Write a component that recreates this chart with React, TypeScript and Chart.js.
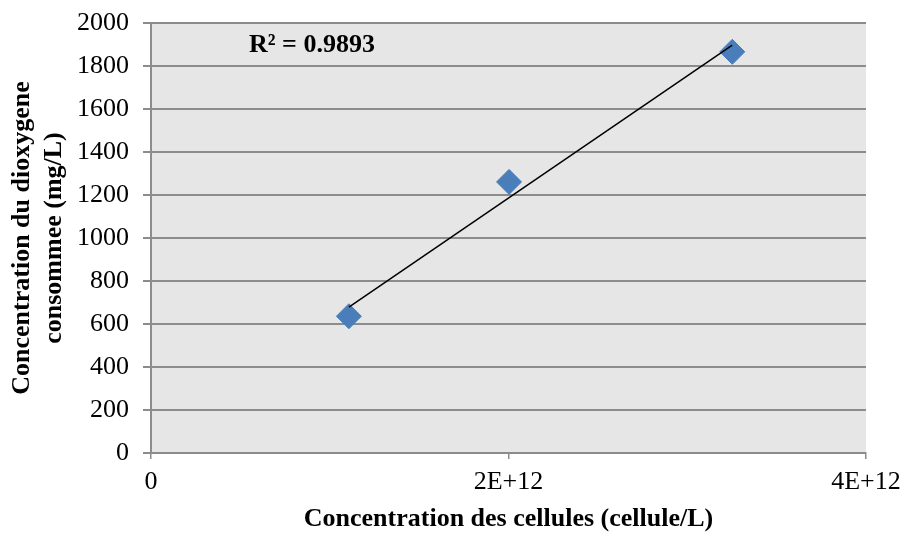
import React, { useEffect, useRef } from "react";
import { Chart, registerables } from "chart.js";

Chart.register(...registerables);

// Data
const cellConc: number[] = [1.107e12, 2.003e12, 3.252e12];
const o2Conc: number[] = [636, 1261, 1866];
const trendX: number[] = [1.107e12, 3.252e12];
const trendY: number[] = [679, 1897];
const xTicks: number[] = [0, 2e12, 4e12];
const xTickLabels: string[] = ["0", "2E+12", "4E+12"];
const r2Label = "R² = 0.9893";
const xTitle = "Concentration des cellules (cellule/L)";
const yTitle: string[] = ["Concentration du dioxygene", "consommee (mg/L)"];

const FONT = "'Times New Roman', 'Liberation Serif', serif";

export default function App() {
  const ref = useRef<HTMLCanvasElement | null>(null);

  useEffect(() => {
    document.body.style.margin = "0";
    const canvas = ref.current;
    if (!canvas) return;

    const bgPlugin = {
      id: "plotBg",
      beforeDraw(chart: any) {
        const { ctx, chartArea } = chart;
        ctx.save();
        ctx.fillStyle = "#e6e6e6";
        ctx.fillRect(chartArea.left, chartArea.top, chartArea.right - chartArea.left, chartArea.bottom - chartArea.top);
        ctx.restore();
      },
      afterDraw(chart: any) {
        const { ctx, chartArea } = chart;
        ctx.save();
        ctx.fillStyle = "#000";
        ctx.font = `bold 26px ${FONT}`;
        ctx.textAlign = "left";
        ctx.textBaseline = "middle";
        ctx.fillText(r2Label, chartArea.left + 98, chartArea.top + 22);
        ctx.restore();
      },
    };

    const chart = new Chart(canvas, {
      type: "scatter",
      data: {
        datasets: [
          {
            label: "trend",
            data: trendX.map((x, i) => ({ x, y: trendY[i] })),
            showLine: true,
            borderColor: "#000000",
            borderWidth: 1.5,
            pointRadius: 0,
            order: 0,
          },
          {
            label: "data",
            data: cellConc.map((x, i) => ({ x, y: o2Conc[i] })),
            pointStyle: "rectRot",
            pointRadius: 12.5,
            pointBackgroundColor: "#4a7ebb",
            pointBorderColor: "#4a7ebb",
            pointBorderWidth: 1,
            showLine: false,
            order: 1,
          },
        ],
      },
      options: {
        responsive: false,
        animation: false,
        layout: { padding: { top: 23, right: 38, left: 0, bottom: 0 } },
        plugins: { legend: { display: false }, tooltip: { enabled: false } },
        scales: {
          x: {
            type: "linear",
            min: 0,
            max: 4e12,
            afterBuildTicks(scale: any) {
              scale.ticks = xTicks.map((v) => ({ value: v }));
            },
            ticks: {
              callback: (v: any) => {
                const i = xTicks.indexOf(Number(v));
                return i >= 0 ? xTickLabels[i] : "";
              },
              color: "#000",
              font: { family: FONT, size: 26 },
              padding: 8,
              maxRotation: 0,
            },
            grid: {
              drawOnChartArea: false,
              drawTicks: true,
              tickLength: 6,
              tickColor: "#8c8c8c",
              lineWidth: 1.5,
            },
            border: { display: true, color: "#8c8c8c", width: 2 },
            title: {
              display: true,
              text: xTitle,
              color: "#000",
              font: { family: FONT, size: 26, weight: "bold" },
              padding: { top: 5, bottom: 0 },
            },
            afterFit(scale: any) {
              scale.height = 82;
              scale.paddingLeft = 0;
              scale.paddingRight = 0;
            },
          },
          y: {
            type: "linear",
            min: 0,
            max: 2000,
            ticks: {
              stepSize: 200,
              callback: (v: any) => String(v),
              color: "#000",
              font: { family: FONT, size: 26 },
              padding: 14,
            },
            grid: {
              color: "#8c8c8c",
              lineWidth: 2,
              tickLength: 8,
              tickColor: "#8c8c8c",
            },
            border: { display: true, color: "#8c8c8c", width: 2 },
            title: {
              display: true,
              text: yTitle,
              color: "#000",
              font: { family: FONT, size: 26, weight: "bold", lineHeight: 1.25 },
              padding: { top: 6, bottom: 4 },
            },
            afterFit(scale: any) {
              scale.width = 151;
              scale.paddingTop = 0;
              scale.paddingBottom = 0;
            },
          },
        },
      },
      plugins: [bgPlugin],
    } as any);

    return () => chart.destroy();
  }, []);

  return (
    <div style={{ position: "absolute", left: 0, top: 0, width: 904, height: 535 }}>
      <canvas ref={ref} width={904} height={535} />
    </div>
  );
}
